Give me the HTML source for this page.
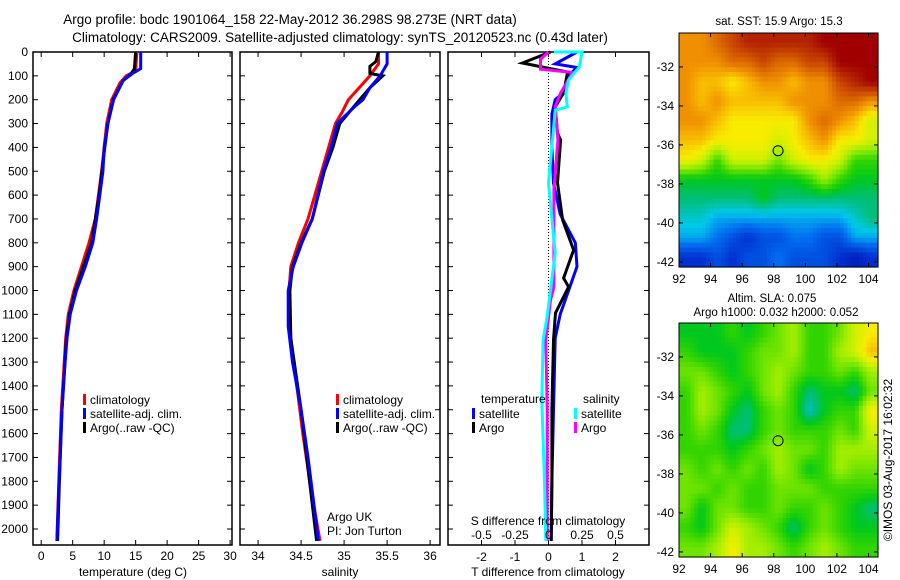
<!DOCTYPE html>
<html><head><meta charset="utf-8">
<style>
html,body{margin:0;padding:0;background:#fff;}
svg{display:block;font-family:"Liberation Sans",sans-serif;}
</style></head>
<body>
<svg id="fig" width="900" height="580" viewBox="0 0 900 580">
<rect width="900" height="580" fill="#fff"/>
<text x="290" y="24" font-size="13.5" text-anchor="middle">Argo profile: bodc 1901064_158 22-May-2012 36.298S 98.273E (NRT data)</text>
<text x="340" y="42" font-size="13.5" text-anchor="middle">Climatology: CARS2009. Satellite-adjusted climatology: synTS_20120523.nc (0.43d later)</text>
<g id="g"></g>
</svg>
<script>
// ---- data ----
const tDepthClim=[0,80,100,130,200,300,500,700,800,900,1000,1100,1200,1500,1800,2050];
const tClim=[15.2,15.0,13.5,12.5,11.2,10.4,9.6,8.6,7.6,6.4,5.2,4.3,3.9,3.2,2.8,2.5];
const tDepthSat=[0,70,90,120,200,300,400,500,600,700,800,900,1000,1100,1200,1300,1500,1700,1900,2050];
const tSat=[15.8,15.8,14.5,13,11.5,10.6,10,9.8,9.3,8.8,8.2,7.0,5.6,4.6,4.1,3.8,3.3,3.0,2.7,2.5];
const tDepthArgo=[0,70,90,120,200,300,400,600,800,900,1000,1100,1200,1500,1800,2050];
const tArgo=[15.0,14.8,14.3,13,11.4,10.6,10.1,9.2,8.0,6.7,5.4,4.5,4.0,3.3,2.9,2.6];

const sDepthClim=[0,50,100,200,250,300,500,700,800,900,1000,1200,1400,1600,1800,2050];
const sClim=[35.4,35.4,35.3,35.05,34.98,34.9,34.74,34.58,34.47,34.38,34.36,34.38,34.45,34.52,34.6,34.72];
const sDepthSat=[0,50,100,150,200,230,300,400,500,700,800,900,1000,1150,1300,1500,1700,1900,2050];
const sSat=[35.5,35.5,35.42,35.3,35.22,35.12,34.92,34.85,34.76,34.63,34.51,34.41,34.35,34.35,34.4,34.5,34.58,34.65,34.7];
const sDepthArgo=[0,40,60,90,100,150,200,300,400,500,700,800,900,1000,1200,1500,2050];
const sArgo=[35.4,35.37,35.3,35.3,35.45,35.3,35.18,34.95,34.87,34.77,34.63,34.5,34.4,34.37,34.38,34.5,34.68];

const dDepthTArgo=[0,46,84,172,230,340,369,549,704,830,948,985,1094,1208,1500,1800,2050];
const dTArgo=[0.06,-0.78,0.57,0.45,0.2,0.27,0.36,0.27,0.42,0.75,0.45,0.6,0.21,0.15,0.1,0.1,0.08];
const dDepthTSat=[0,50,65,100,140,170,200,260,400,550,680,800,900,1000,1100,1200,1500,1800,2050];
const dTSat=[0.85,0.2,0.85,0.6,0.5,0.45,0.2,0.1,0.1,0.15,0.35,0.8,0.85,0.6,0.35,0.2,0.15,0.1,0.08];
const dDepthSSat=[0,0,63,117,172,230,244,370,549,843,1108,1208,1460,1800,2050];
const dSSat=[0.04,0.25,0.23,0.15,0.13,0.14,0.05,0.03,0,0.05,-0.01,-0.04,-0.05,-0.03,-0.02];
const dDepthSArgo=[0,30,72,86,172,230,370,577,985,1041,1208,1500,2050];
const dSArgo=[0,-0.06,-0.06,0.18,0.09,0.05,0.07,0.04,0.04,0.015,-0.02,-0.01,-0.01];

const depthTicks=[0,100,200,300,400,500,600,700,800,900,1000,1100,1200,1300,1400,1500,1600,1700,1800,1900,2000];
const tTicks=[0,5,10,15,20,25,30];
const sTicks=[34,34.5,35,35.5,36];
const dTTicks=[-2,-1,0,1,2];
const dSTicks=[-0.5,-0.25,0,0.25,0.5];
const dSTickLabels=["-0.5","-0.25","0","0.25","0.5"];
const lonTicks=[92,94,96,98,100,102,104];
const latTicks=[-32,-34,-36,-38,-40,-42];

const sstGrid=[
[8,8,8.5,9,9.5,9.5,9.5,9.5,9.5,10,10,10,10],
[8,8,8,8.5,8.5,9,8.5,8.5,9,9,10,10,10],
[8,7.5,7.5,7,7.5,8,8,7.5,8,8,9,9.5,10],
[8,7.5,8,7.5,7.5,7.5,7.5,8,8,8,8.5,8.5,8],
[8,8,7.5,7,7,7,7,7,8,8.5,8,7.5,6.5],
[7.5,7.5,7,7,7,7,6.5,7,7.5,8,7,7,6.5],
[7,6.5,5,6.5,6.5,6.5,5.5,6.5,7,7,6.5,5,5],
[4.5,4.5,4.5,4.5,4.5,4.5,4.5,4.5,5,6,5,4.5,4.5],
[4,4,4,4,4,4.5,4,4,4,4,4,4,4],
[3.5,3.5,3,3,3,3,3,3,3,3,3,3.5,4],
[3,3,2.5,2,1.5,2,2,2.5,2.5,2,2,3,3],
[1.5,1.5,2,1.5,2,2,2.5,2,2,2,1.5,1,1.5]];
const slaGrid=[
[4.5,4.5,4.5,5,4.5,5,5.5,6,5,5,5.5,6.5,7],
[5,4.5,4.5,4.5,5,5.5,5.5,6,5,5,6,6.5,7.5],
[5.5,5.5,5,4.5,5,5.5,6,5.5,5,5,5.5,5,6],
[5,6,5.5,5,4.5,5.5,6,5,4,4.5,4.5,4,5.5],
[5,6,5.5,4.5,4,5,5.5,5,3.5,4.5,5,5,7],
[5,5.5,5,4,4,5,5.5,5,5,5,5.5,5,6.5],
[5,5,5,4.5,5,5.5,6,5.5,5.5,5,6,6,6],
[5.5,5,5.5,5,5.5,5,6,5.5,4.5,5,6,5.5,5.5],
[5.5,5.5,5,5.5,5,5,5.5,5.5,5.5,5,5,5,5],
[5.5,4.5,5.5,5.5,5,5,5.5,5,5,5.5,5,4.5,4],
[5,4.5,5.5,6.5,6,5.5,5,4,5,5.5,5,4.5,4.5],
[5.5,5.5,6,7,6,6,5.5,5,5.5,6,5.5,5,5]];
const argoLon=98.273, argoLat=-36.298;

// ---- drawing ----
const NS="http://www.w3.org/2000/svg";
const G=document.getElementById('g');
function el(tag,attrs,parent){const e=document.createElementNS(NS,tag);for(const k in attrs)e.setAttribute(k,attrs[k]);(parent||G).appendChild(e);return e;}
function txt(x,y,s,size,anchor,parent){const t=el('text',{x:x,y:y,'font-size':size,'text-anchor':anchor||'middle'},parent);t.textContent=s;return t;}

const TOP=52,BOT=545;
const yD=d=>TOP+d*0.2385;
const P1={x0:33,x1:232,min:-1.3,max:30.3};
const P2={x0:240,x1:440,min:33.79,max:36.115};
const P3={x0:448,x1:649,min:-3,max:3};
const P3S={x0:448,x1:649,min:-0.75,max:0.75};
const sx=(p,v)=>p.x0+(v-p.min)/(p.max-p.min)*(p.x1-p.x0);

function frame(p,name){
  const r=el('rect',{x:p.x0,y:TOP,width:p.x1-p.x0,height:BOT-TOP,fill:'none',stroke:'#000','stroke-width':1.5});
  
  
  depthTicks.forEach(d=>{
    el('line',{x1:p.x0,x2:p.x0+5,y1:yD(d),y2:yD(d),stroke:'#000'});
    el('line',{x1:p.x1,x2:p.x1-5,y1:yD(d),y2:yD(d),stroke:'#000'});
  });
}
function line(p,depths,vals,color,name){
  const pts=depths.map((d,i)=>sx(p,vals[i]).toFixed(1)+','+yD(d).toFixed(1)).join(' ');
  const pl=el('polyline',{points:pts,fill:'none',stroke:color,'stroke-width':3,'stroke-linejoin':'miter'});
  
  
}
function xTicks(p,ticks,labels,ylab){
  ticks.forEach((v,i)=>{
    const x=sx(p,v);
    el('line',{x1:x,x2:x,y1:TOP,y2:TOP+5,stroke:'#000'});
    el('line',{x1:x,x2:x,y1:BOT,y2:BOT-5,stroke:'#000'});
    const t=txt(x,ylab,labels?labels[i]:String(v),12);
    
    
  });
}
depthTicks.forEach(d=>{
  const t=txt(28,yD(d)+4,String(d),12,'end');
  
  
});

// panel 1
frame(P1,'temperature-panel');
xTicks(P1,tTicks,null,560);
line(P1,tDepthClim,tClim,'#f00','temp-climatology-line');
line(P1,tDepthArgo,tArgo,'#000','temp-argo-line');
line(P1,tDepthSat,tSat,'#00f','temp-satellite-line');
let t=txt(133,576,'temperature (deg C)',12);



// panel 2
frame(P2,'salinity-panel');
xTicks(P2,sTicks,null,560);
line(P2,sDepthClim,sClim,'#f00','sal-climatology-line');
line(P2,sDepthArgo,sArgo,'#000','sal-argo-line');
line(P2,sDepthSat,sSat,'#00f','sal-satellite-line');
t=txt(340,576,'salinity',12);


t=txt(327,521,'Argo UK',12,'start');


t=txt(327,535,'PI: Jon Turton',12,'start');



function legend(x,y,color,label,name){
  const r=el('rect',{x:x,y:y-10,width:3,height:11,fill:color});
  
  
  const tt=txt(x+7,y,label,12,'start');
  
  
}
legend(83,404,'#f00','climatology','legend-climatology');
legend(83,418,'#00f','satellite-adj. clim.','legend-satellite');
legend(83,432,'#000','Argo(..raw -QC)','legend-argo');
legend(336,404,'#f00','climatology','legend-climatology-2');
legend(336,418,'#00f','satellite-adj. clim.','legend-satellite-2');
legend(336,432,'#000','Argo(..raw -QC)','legend-argo-2');

// panel 3
frame(P3,'difference-panel');
el('line',{x1:sx(P3,0),x2:sx(P3,0),y1:TOP,y2:BOT,stroke:'#000','stroke-dasharray':'1,2'});
xTicks(P3,dTTicks,null,561);
line(P3,dDepthTSat,dTSat,'#00f','dT-satellite-line');
line(P3,dDepthTArgo,dTArgo,'#000','dT-argo-line');
line(P3S,dDepthSArgo,dSArgo,'#f0f','dS-argo-line');
line(P3S,dDepthSSat,dSSat,'#0ff','dS-satellite-line');
dSTicks.forEach((v,i)=>{
  const tt=txt(sx(P3S,v),539,dSTickLabels[i],12);
  
  
});
t=txt(548,525,'S difference from climatology',12);


t=txt(548,576,'T difference from climatology',12);


t=txt(481,403,'temperature',12,'start');


t=txt(583,403,'salinity',12,'start');


legend(472,418,'#00f','satellite','legend-t-satellite');
legend(472,432,'#000','Argo','legend-t-argo');
legend(574,418,'#0ff','satellite','legend-s-satellite');
legend(574,432,'#f0f','Argo','legend-s-argo');

// ---- maps ----
const cstops=[[0,[0,0,150]],[1.5,[0,48,208]],[2.5,[0,112,240]],[3.3,[0,200,235]],[4,[0,190,120]],[4.5,[0,200,30]],[5,[50,212,0]],[5.5,[110,228,0]],[6,[165,238,0]],[6.5,[210,240,0]],[7,[248,236,0]],[7.5,[248,190,0]],[8,[240,144,0]],[9,[200,70,0]],[10,[160,0,0]]];
function cmap(v){
  v=Math.max(0,Math.min(10,v));
  for(let i=1;i<cstops.length;i++){
    if(v<=cstops[i][0]){const a=cstops[i-1],b=cstops[i];const f=(v-a[0])/(b[0]-a[0]);
      const c=a[1].map((x,k)=>Math.round(x+(b[1][k]-x)*f));return 'rgb('+c.join(',')+')';}
  }
  return 'rgb(160,0,0)';
}
function drawMap(grid,y0,name){
  const M={x0:679,x1:878,y0:y0,y1:y0+234,lon0:92,lon1:104.6,lat0:-30.26,lat1:-42.26};
  const mx=l=>M.x0+(l-M.lon0)/(M.lon1-M.lon0)*(M.x1-M.x0);
  const my=l=>M.y0+(l-M.lat0)/(M.lat1-M.lat0)*(M.y1-M.y0);
  const g=el('g',{});
  
  
  const R=grid.length,C=grid[0].length,up=4;
  const nr=R*up,nc=C*up,cw=(M.x1-M.x0)/nc,ch=(M.y1-M.y0)/nr;
  for(let i=0;i<nr;i++){
    const fy=Math.max(0,Math.min(R-1,(i+0.5)/up-0.5));const r0=Math.floor(fy),r1=Math.min(R-1,r0+1),ty=fy-r0;
    for(let j=0;j<nc;j++){
      const fx=Math.max(0,Math.min(C-1,(j+0.5)/up-0.5));const c0=Math.floor(fx),c1=Math.min(C-1,c0+1),tx=fx-c0;
      const v=(grid[r0][c0]*(1-tx)+grid[r0][c1]*tx)*(1-ty)+(grid[r1][c0]*(1-tx)+grid[r1][c1]*tx)*ty;
      const cell=el('rect',{x:(M.x0+j*cw).toFixed(2),y:(M.y0+i*ch).toFixed(2),width:(cw+0.6).toFixed(2),height:(ch+0.6).toFixed(2),fill:cmap(v)},g);
      
      
    }
  }
  el('rect',{x:M.x0,y:M.y0,width:M.x1-M.x0,height:M.y1-M.y0,fill:'none',stroke:'#000','stroke-width':1},g);
  const dot=el('circle',{cx:mx(argoLon),cy:my(argoLat),r:5,fill:'none',stroke:'#000','stroke-width':1},g);
  
  
  latTicks.forEach(l=>{
    el('line',{x1:M.x0,x2:M.x0+4,y1:my(l),y2:my(l),stroke:'#000'},g);
    el('line',{x1:M.x1,x2:M.x1-4,y1:my(l),y2:my(l),stroke:'#000'},g);
    const tt=txt(674,my(l)+4,String(l),12,'end',g);
    
    
  });
  lonTicks.forEach(l=>{
    el('line',{x1:mx(l),x2:mx(l),y1:M.y1,y2:M.y1-4,stroke:'#000'},g);
    el('line',{x1:mx(l),x2:mx(l),y1:M.y0,y2:M.y0+4,stroke:'#000'},g);
    const tt=txt(mx(l),M.y1+16,String(l),12,'middle',g);
    
    
  });
}
drawMap(sstGrid,33,'sst-map');
drawMap(slaGrid,323,'sla-map');
t=txt(779,25,'sat. SST: 15.9 Argo: 15.3',11.5);


t=txt(772,302,'Altim. SLA: 0.075',11.5);


t=txt(776,316,'Argo h1000: 0.032 h2000: 0.052',11.5);


t=txt(0,0,'©IMOS 03-Aug-2017 16:02:32',12);
t.setAttribute('transform','translate(892,460) rotate(-90)');


</script>
</body></html>
